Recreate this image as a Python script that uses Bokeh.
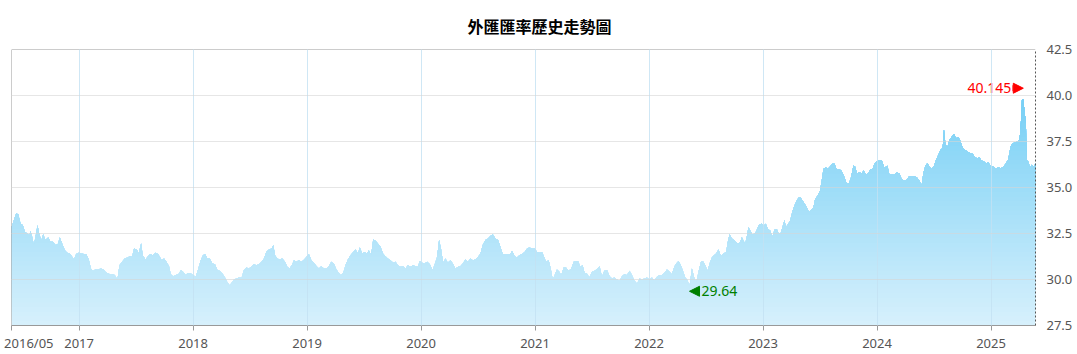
import numpy as np
from bokeh.plotting import figure
from bokeh.models import Range1d, FixedTicker, Span, Label, Arrow, NormalHead, LinearAxis
from bokeh.embed import file_html
from bokeh.resources import INLINE

chart_title = "外匯匯率歷史走勢圖"

# time as fractional year, rate values
dates = [
    2016.407, 2016.428, 2016.448, 2016.466, 2016.486, 2016.507, 2016.524, 2016.545, 2016.565, 2016.574,
    2016.588, 2016.603, 2016.618, 2016.635, 2016.653, 2016.670, 2016.685, 2016.705, 2016.729, 2016.749,
    2016.770, 2016.793, 2016.813, 2016.831, 2016.851, 2016.875, 2016.895, 2016.919, 2016.939, 2016.956,
    2016.974, 2016.997, 2017.021, 2017.041, 2017.062, 2017.085, 2017.103, 2017.120, 2017.143, 2017.167,
    2017.190, 2017.214, 2017.231, 2017.254, 2017.275, 2017.295, 2017.313, 2017.336, 2017.354, 2017.377,
    2017.401, 2017.424, 2017.447, 2017.465, 2017.482, 2017.506, 2017.523, 2017.544, 2017.558, 2017.582,
    2017.605, 2017.625, 2017.646, 2017.669, 2017.693, 2017.725, 2017.745, 2017.766, 2017.789, 2017.804,
    2017.824, 2017.848, 2017.871, 2017.894, 2017.912, 2017.935, 2017.953, 2017.976, 2017.999, 2018.023,
    2018.046, 2018.067, 2018.087, 2018.105, 2018.125, 2018.146, 2018.169, 2018.192, 2018.213, 2018.233,
    2018.257, 2018.280, 2018.300, 2018.321, 2018.338, 2018.359, 2018.379, 2018.403, 2018.426, 2018.446,
    2018.467, 2018.490, 2018.514, 2018.534, 2018.555, 2018.578, 2018.601, 2018.622, 2018.642, 2018.666,
    2018.689, 2018.704, 2018.718, 2018.739, 2018.759, 2018.782, 2018.806, 2018.826, 2018.847, 2018.870,
    2018.885, 2018.905, 2018.928, 2018.952, 2018.975, 2018.996, 2019.016, 2019.037, 2019.060, 2019.083,
    2019.104, 2019.124, 2019.148, 2019.171, 2019.191, 2019.212, 2019.235, 2019.253, 2019.270, 2019.294,
    2019.317, 2019.337, 2019.358, 2019.381, 2019.405, 2019.425, 2019.446, 2019.463, 2019.483, 2019.504,
    2019.527, 2019.542, 2019.562, 2019.580, 2019.600, 2019.621, 2019.644, 2019.668, 2019.688, 2019.708,
    2019.732, 2019.755, 2019.776, 2019.796, 2019.819, 2019.843, 2019.863, 2019.884, 2019.907, 2019.930,
    2019.951, 2019.971, 2019.989, 2020.009, 2020.030, 2020.053, 2020.077, 2020.100, 2020.117, 2020.141,
    2020.158, 2020.176, 2020.193, 2020.214, 2020.234, 2020.258, 2020.278, 2020.301, 2020.325, 2020.345,
    2020.366, 2020.389, 2020.412, 2020.433, 2020.453, 2020.477, 2020.500, 2020.521, 2020.541, 2020.564,
    2020.588, 2020.608, 2020.629, 2020.652, 2020.675, 2020.696, 2020.716, 2020.740, 2020.763, 2020.783,
    2020.798, 2020.821, 2020.842, 2020.862, 2020.886, 2020.909, 2020.930, 2020.950, 2020.973, 2020.997,
    2021.017, 2021.038, 2021.061, 2021.079, 2021.096, 2021.119, 2021.137, 2021.155, 2021.172, 2021.192,
    2021.213, 2021.230, 2021.251, 2021.271, 2021.295, 2021.318, 2021.339, 2021.359, 2021.377, 2021.397,
    2021.417, 2021.435, 2021.455, 2021.476, 2021.499, 2021.523, 2021.549, 2021.566, 2021.587, 2021.607,
    2021.631, 2021.654, 2021.675, 2021.695, 2021.718, 2021.742, 2021.762, 2021.783, 2021.806, 2021.829,
    2021.850, 2021.870, 2021.894, 2021.917, 2021.937, 2021.958, 2021.981, 2022.005, 2022.025, 2022.046,
    2022.069, 2022.092, 2022.113, 2022.133, 2022.157, 2022.180, 2022.200, 2022.221, 2022.238, 2022.259,
    2022.279, 2022.297, 2022.317, 2022.338, 2022.355, 2022.376, 2022.396, 2022.414, 2022.434, 2022.455,
    2022.472, 2022.493, 2022.513, 2022.531, 2022.551, 2022.571, 2022.589, 2022.609, 2022.630, 2022.653,
    2022.677, 2022.688, 2022.706, 2022.726, 2022.747, 2022.779, 2022.799, 2022.814, 2022.828, 2022.843,
    2022.858, 2022.872, 2022.887, 2022.907, 2022.931, 2022.948, 2022.966, 2022.989, 2023.007, 2023.024,
    2023.042, 2023.062, 2023.083, 2023.100, 2023.121, 2023.135, 2023.153, 2023.170, 2023.188, 2023.200,
    2023.217, 2023.238, 2023.258, 2023.276, 2023.296, 2023.311, 2023.328, 2023.346, 2023.369, 2023.387,
    2023.404, 2023.422, 2023.442, 2023.457, 2023.480, 2023.500, 2023.515, 2023.530, 2023.550, 2023.568,
    2023.588, 2023.609, 2023.626, 2023.647, 2023.667, 2023.690, 2023.714, 2023.734, 2023.755, 2023.772,
    2023.793, 2023.807, 2023.825, 2023.842, 2023.866, 2023.883, 2023.901, 2023.924, 2023.942, 2023.959,
    2023.977, 2023.997, 2024.018, 2024.041, 2024.064, 2024.091, 2024.108, 2024.129, 2024.149, 2024.172,
    2024.196, 2024.216, 2024.237, 2024.260, 2024.283, 2024.304, 2024.324, 2024.348, 2024.371, 2024.392,
    2024.406, 2024.424, 2024.441, 2024.459, 2024.479, 2024.500, 2024.517, 2024.538, 2024.558, 2024.576,
    2024.587, 2024.599, 2024.616, 2024.634, 2024.654, 2024.675, 2024.692, 2024.713, 2024.733, 2024.751,
    2024.771, 2024.792, 2024.815, 2024.838, 2024.859, 2024.879, 2024.897, 2024.917, 2024.938, 2024.955,
    2024.976, 2024.996, 2025.020, 2025.043, 2025.063, 2025.084, 2025.107, 2025.131, 2025.151, 2025.172,
    2025.189, 2025.210, 2025.230, 2025.248, 2025.259, 2025.271, 2025.283, 2025.294, 2025.306, 2025.312,
    2025.326, 2025.341, 2025.359, 2025.376, 2025.390,
]

rates = [
    32.86, 33.22, 33.59, 33.55, 33.04, 32.95, 32.59, 32.50, 32.41, 32.64,
    32.32, 31.87, 32.32, 32.95, 32.41, 32.14, 32.46, 32.14, 32.28, 32.05,
    32.05, 31.87, 31.92, 32.28, 31.96, 31.59, 31.45, 31.41, 31.23, 31.09,
    31.38, 31.45, 31.41, 31.38, 31.38, 31.09, 30.60, 30.47, 30.54, 30.54,
    30.60, 30.54, 30.42, 30.33, 30.29, 30.29, 30.24, 30.00, 30.78, 30.96,
    31.14, 31.20, 31.27, 31.23, 31.68, 31.63, 31.41, 31.96, 31.32, 31.09,
    31.27, 31.38, 31.32, 31.45, 31.38, 31.05, 31.14, 30.96, 30.72, 30.29,
    30.18, 30.24, 30.29, 30.51, 30.42, 30.24, 30.36, 30.36, 30.24, 30.15,
    30.60, 31.05, 31.32, 31.38, 31.14, 31.14, 30.87, 30.83, 30.51, 30.47,
    30.33, 30.11, 29.87, 29.69, 29.82, 30.00, 30.05, 30.11, 30.11, 30.51,
    30.65, 30.60, 30.72, 30.83, 30.78, 30.83, 30.96, 31.14, 31.50, 31.63,
    31.68, 31.87, 31.32, 31.14, 31.09, 31.14, 30.96, 30.69, 30.60, 30.83,
    31.05, 30.96, 31.05, 30.96, 31.09, 31.23, 31.38, 31.05, 30.91, 30.72,
    30.60, 30.72, 30.60, 30.60, 30.72, 30.96, 30.87, 30.60, 30.42, 30.24,
    30.36, 30.78, 31.09, 31.32, 31.50, 31.63, 31.41, 31.74, 31.41, 31.50,
    31.41, 31.59, 31.32, 32.17, 32.10, 31.96, 31.78, 31.38, 31.27, 31.14,
    31.05, 30.91, 30.96, 30.78, 30.69, 30.72, 30.60, 30.78, 30.69, 30.78,
    30.72, 30.69, 31.01, 30.91, 30.87, 30.96, 30.83, 30.51, 30.78, 31.23,
    32.14, 31.63, 30.91, 31.14, 30.91, 31.05, 30.87, 30.60, 30.69, 30.72,
    30.87, 31.09, 30.96, 31.14, 31.05, 31.09, 31.23, 31.41, 31.87, 32.14,
    32.23, 32.36, 32.46, 32.23, 32.14, 31.78, 31.38, 31.38, 31.38, 31.38,
    31.56, 31.27, 31.20, 31.32, 31.38, 31.50, 31.68, 31.74, 31.68, 31.68,
    31.50, 31.45, 31.50, 31.23, 30.96, 31.05, 30.60, 30.00, 30.24, 30.54,
    30.42, 30.24, 30.65, 30.65, 30.47, 30.60, 30.96, 31.01, 31.01, 30.69,
    30.78, 30.36, 30.33, 30.11, 30.42, 30.47, 30.60, 30.72, 30.15, 30.47,
    30.51, 30.18, 30.05, 30.11, 30.00, 29.93, 30.18, 30.29, 30.24, 30.47,
    30.24, 29.96, 29.78, 30.05, 30.00, 30.05, 30.11, 30.00, 30.11, 29.96,
    30.15, 30.24, 30.24, 30.36, 30.54, 30.42, 30.29, 30.69, 30.87, 31.01,
    30.78, 30.47, 30.11, 29.96, 29.64, 30.60, 30.11, 29.87, 30.42, 30.96,
    31.01, 30.78, 30.47, 30.87, 31.20, 31.32, 31.41, 31.63, 31.27, 31.41,
    31.50, 31.96, 32.46, 32.23, 32.14, 31.94, 32.03, 32.30, 32.12, 31.94,
    32.34, 32.84, 32.66, 32.45, 32.52, 32.75, 32.99, 33.03, 32.93, 33.03,
    32.75, 32.66, 32.34, 32.70, 32.75, 32.52, 32.48, 32.84, 33.24, 32.84,
    32.99, 33.21, 33.71, 34.02, 34.29, 34.44, 34.47, 34.29, 34.08, 33.89,
    33.66, 33.79, 33.93, 34.38, 34.57, 34.84, 35.38, 36.01, 36.10, 36.01,
    36.14, 36.29, 36.29, 35.96, 36.01, 35.89, 35.56, 35.20, 35.24, 35.56,
    36.20, 36.14, 35.74, 35.83, 35.78, 35.92, 35.71, 35.78, 36.01, 35.96,
    36.29, 36.43, 36.47, 36.50, 36.07, 36.18, 35.69, 35.74, 35.69, 35.82,
    35.78, 35.45, 35.38, 35.42, 35.63, 35.60, 35.63, 35.56, 35.38, 35.14,
    35.78, 36.18, 36.32, 36.14, 36.00, 36.18, 36.50, 36.78, 37.05, 37.14,
    38.15, 37.41, 37.14, 37.59, 37.74, 37.92, 37.68, 37.74, 37.50, 37.14,
    37.05, 36.96, 36.87, 36.83, 36.65, 36.59, 36.65, 36.47, 36.41, 36.32,
    36.36, 36.18, 36.14, 36.00, 36.11, 36.05, 36.11, 36.32, 36.54, 37.23,
    37.41, 37.45, 37.50, 37.59, 38.13, 39.76, 39.80, 39.13, 38.50, 36.50,
    36.41, 36.11, 36.23, 36.11, 36.32,
]

year_ticks = [2017, 2018, 2019, 2020, 2021, 2022, 2023, 2024, 2025]
year_labels = ["2017", "2018", "2019", "2020", "2021", "2022", "2023", "2024", "2025"]
start_label = "2016/05"
rate_ticks = [27.5, 30.0, 32.5, 35.0, 37.5, 40.0, 42.5]
rate_labels = ["27.5", "30.0", "32.5", "35.0", "37.5", "40.0", "42.5"]
high_value = 40.145
low_value = 29.64

x = np.array(dates)
yv = np.array(rates)

p = figure(width=1077, height=354, output_backend="svg", toolbar_location=None,
           x_range=Range1d(dates[0], dates[-1]), y_range=Range1d(rate_ticks[0], rate_ticks[-1]),
           x_axis_location="below", y_axis_location="right",
           min_border_left=11, min_border_right=42, min_border_top=49, min_border_bottom=29)
p.outline_line_color = None
p.background_fill_color = "white"
p.border_fill_color = "white"

# title
p.title.text = chart_title
p.title.align = "left"
p.title.offset = 456
p.title.standoff = 20
p.title.vertical_align = "top"
p.title.text_font = "Noto Sans CJK TC"
p.title.text_font_size = "16px"
p.title.text_font_style = "bold"
p.title.text_color = "#000000"

# gradient-like area fill built as stacked bands
bottom_rgb = np.array([214, 240, 252])
top_rgb = np.array([118, 207, 245])
lo_edges = np.arange(27.5, 40.01, 0.25)
for lo in lo_edges:
    t = min(max((lo - 27.5) / 12.5, 0.0), 1.0)
    c = (bottom_rgb * (1 - t) + top_rgb * t).round().astype(int)
    col = "#%02x%02x%02x" % tuple(c)
    p.varea(x=x, y1=np.minimum(yv, lo), y2=yv, fill_color=col, fill_alpha=1.0)

# grids
p.xgrid.ticker = FixedTicker(ticks=year_ticks)
p.xgrid.grid_line_color = "#c3e1f2"
p.xgrid.grid_line_alpha = 0.8
p.xgrid.level = "overlay"
p.ygrid.ticker = FixedTicker(ticks=rate_ticks)
p.ygrid.grid_line_color = "#d6d6d6"
p.ygrid.grid_line_alpha = 0.6
p.ygrid.level = "overlay"

# x axis, inner: axis line and tick marks only
xa = p.xaxis[0]
xa.ticker = FixedTicker(ticks=[dates[0]] + year_ticks)
xa.axis_line_color = "#999999"
xa.major_tick_line_color = "#999999"
xa.major_tick_out = 5
xa.major_tick_in = 0
xa.minor_tick_line_color = None
xa.major_label_text_font_size = "0px"
xa.major_label_text_alpha = 0
xa.major_label_standoff = 0

# x axis, outer: labels only (first label starts at the frame's left edge)
start_label_pos = dates[0] + 0.152
xl = LinearAxis(ticker=FixedTicker(ticks=[start_label_pos] + year_ticks))
lab_over = {yt: lab for yt, lab in zip(year_ticks, year_labels)}
lab_over[start_label_pos] = start_label
xl.major_label_overrides = lab_over
xl.axis_line_color = None
xl.major_tick_line_color = None
xl.minor_tick_line_color = None
xl.major_tick_out = 0
xl.major_tick_in = 0
xl.major_label_text_font = "Noto Sans"
xl.major_label_text_font_size = "13px"
xl.major_label_text_color = "#555555"
xl.major_label_standoff = 3
p.add_layout(xl, "below")

# y axis (right)
ya = p.yaxis[0]
ya.ticker = FixedTicker(ticks=rate_ticks)
ya.major_label_overrides = {t: l for t, l in zip(rate_ticks, rate_labels)}
ya.axis_line_color = "#555555"
ya.axis_line_dash = "2 2"
ya.major_tick_line_color = None
ya.minor_tick_line_color = None
ya.major_label_text_font = "Noto Sans"
ya.major_label_text_font_size = "13px"
ya.major_label_text_color = "#555555"
ya.major_label_standoff = 5

# frame borders (left, top)
p.add_layout(Span(location=dates[0], dimension="height", line_color="#999999", line_width=1))
p.add_layout(Span(location=rate_ticks[-1], dimension="width", line_color="#999999", line_width=1))

# high / low annotations
i_hi = int(np.argmax(yv))
i_lo = int(np.argmin(yv))
hx, lx = dates[i_hi], dates[i_lo]
p.add_layout(Arrow(x_start=hx - 0.095, y_start=high_value + 0.25, x_end=hx, y_end=high_value + 0.25,
                   line_color="#ff0000", line_width=6,
                   end=NormalHead(size=10, fill_color="#ff0000", line_color="#ff0000")))
p.add_layout(Label(x=hx, y=high_value, text=f"{high_value:g}", x_offset=-12, y_offset=5,
                   text_align="right", text_baseline="middle", text_font="Noto Sans",
                   text_font_size="14px", text_color="#ff0000"))
p.add_layout(Arrow(x_start=lx + 0.09, y_start=low_value - 0.28, x_end=lx, y_end=low_value - 0.28,
                   line_color="#008000", line_width=6,
                   end=NormalHead(size=10, fill_color="#008000", line_color="#008000")))
p.add_layout(Label(x=lx, y=low_value, text=f"{low_value:g}", x_offset=12, y_offset=-5,
                   text_align="left", text_baseline="middle", text_font="Noto Sans",
                   text_font_size="14px", text_color="#008000"))

open("out.html", "w").write(file_html(p, INLINE))
